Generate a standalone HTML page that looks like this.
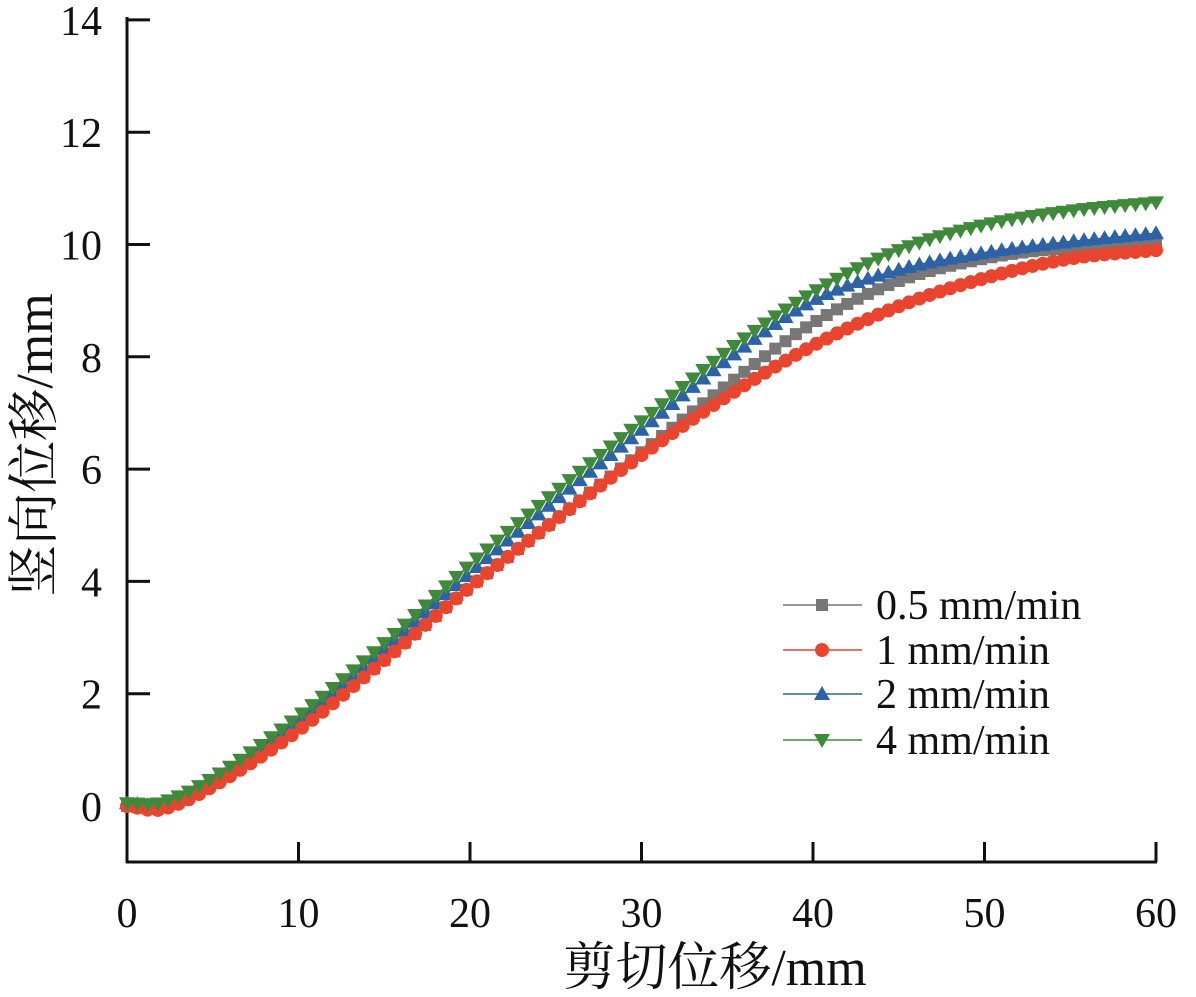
<!DOCTYPE html>
<html><head><meta charset="utf-8"><style>
html,body{margin:0;padding:0;background:#fff;}
svg{display:block;}
text{font-family:"Liberation Serif","Noto Serif CJK SC",serif;fill:#111;}
</style></head><body>
<svg id="s" width="1196" height="997" viewBox="0 0 1196 997" xmlns="http://www.w3.org/2000/svg">
<g stroke="#111" stroke-width="3" fill="none">
<line x1="127" y1="17" x2="127" y2="863"/>
<line x1="126" y1="862" x2="1157" y2="862"/>
</g>
<g id="ticks" stroke="#111" stroke-width="3"></g>
<g font-size="42" text-anchor="end" id="ylab"></g>
<g font-size="42" text-anchor="middle" id="xlab"></g>
<g id="series"></g>
<text x="715" y="985" font-size="52" text-anchor="middle">剪切位移/mm</text>
<text transform="translate(52,445) rotate(-90)" font-size="52" text-anchor="middle">竖向位移/mm</text>
<g id="legend" font-size="42"></g>
</svg>
<script>
const NS="http://www.w3.org/2000/svg";
const X=v=>127+v*1029/60, Y=v=>806-v*56.15;
function el(t,a,p){const e=document.createElementNS(NS,t);for(const k in a)e.setAttribute(k,a[k]);p.appendChild(e);return e;}
const tk=document.getElementById('ticks'),yl=document.getElementById('ylab'),xl=document.getElementById('xlab');
for(let v=0;v<=14;v+=2){el('line',{x1:127,x2:150,y1:Y(v),y2:Y(v)},tk);el('text',{x:102,y:Y(v)+15},yl).textContent=v;}
for(let v=0;v<=60;v+=10){el('line',{x1:X(v),x2:X(v),y1:862,y2:842},tk);el('text',{x:X(v),y:927},xl).textContent=v;}
const S=[
{c:'#777',m:'sq',p:[[0,0],[2,-0.03],[5,0.4],[10,1.4],[15,2.6],[20,3.9],[25,5.1],[30,6.3],[35,7.5],[40,8.6],[45,9.35],[50,9.75],[55,9.95],[60,10.05]]},
{c:'#2e62a6',m:'up',p:[[0,0.05],[2,0.03],[5,0.45],[10,1.5],[15,2.8],[20,4.15],[25,5.45],[30,6.7],[35,7.95],[40,9.0],[45,9.55],[50,9.85],[55,10.05],[60,10.2]]},
{c:'#e8442e',m:'ci',p:[[0,0],[2,-0.06],[5,0.35],[10,1.35],[15,2.6],[20,3.9],[25,5.1],[30,6.25],[35,7.3],[40,8.2],[45,8.9],[50,9.4],[55,9.75],[60,9.9]]},
{c:'#3f8a3a',m:'dn',p:[[0,0.05],[2,0.06],[5,0.5],[10,1.6],[15,2.9],[20,4.3],[25,5.6],[30,6.85],[35,8.1],[40,9.15],[45,9.9],[50,10.35],[55,10.6],[60,10.75]]}];
function interp(p,x){for(let i=0;i<p.length-1;i++){if(x<=p[i+1][0]){const p0=p[Math.max(i-1,0)],p1=p[i],p2=p[i+1],p3=p[Math.min(i+2,p.length-1)];const t=(x-p1[0])/(p2[0]-p1[0]);const m1=(p2[1]-p0[1])/(p2[0]-p0[0])*(p2[0]-p1[0]),m2=(p3[1]-p1[1])/(p3[0]-p1[0])*(p2[0]-p1[0]);const t2=t*t,t3=t2*t;return (2*t3-3*t2+1)*p1[1]+(t3-2*t2+t)*m1+(-2*t3+3*t2)*p2[1]+(t3-t2)*m2;}}return p[p.length-1][1];}
function mk(m,x,y,c,g){if(m=='sq')el('rect',{x:x-6,y:y-6,width:12,height:12,fill:c},g);else if(m=='ci')el('circle',{cx:x,cy:y,r:7,fill:c},g);else if(m=='up')el('polygon',{points:`${x},${y-8} ${x-8},${y+6} ${x+8},${y+6}`,fill:c},g);else el('polygon',{points:`${x},${y+8} ${x-8},${y-6} ${x+8},${y-6}`,fill:c},g);}
const sg=document.getElementById('series');
S.forEach(s=>{const g=el('g',{},sg);let d='';for(let x=0;x<=60.001;x+=0.6){d+=(d?'L':'M')+X(x).toFixed(1)+','+Y(interp(s.p,x)).toFixed(1);}el('path',{d,stroke:s.c,'stroke-width':1.5,fill:'none'},g);for(let x=0;x<=60.001;x+=0.6)mk(s.m,X(x),Y(interp(s.p,x)),s.c,g);});
const lg=document.getElementById('legend');
const L=[['#777','sq','0.5 mm/min',605],['#e8442e','ci','1 mm/min',650],['#2e62a6','up','2 mm/min',694],['#3f8a3a','dn','4 mm/min',740]];
L.forEach(l=>{el('line',{x1:783,x2:862,y1:l[3],y2:l[3],stroke:l[0],'stroke-width':1.5},lg);mk(l[1],822,l[3],l[0],lg);el('text',{x:876,y:l[3]+14},lg).textContent=l[2];});
</script>
</body></html>
